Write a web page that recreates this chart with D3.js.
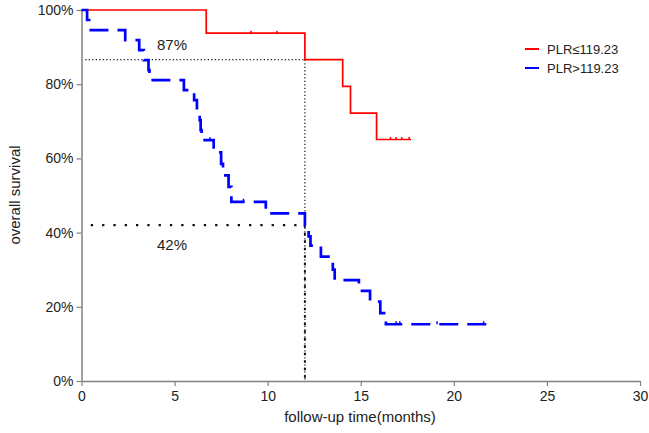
<!DOCTYPE html>
<html>
<head>
<meta charset="utf-8">
<script src="https://cdn.jsdelivr.net/npm/d3@7"></script>
<style>
  body { margin: 0; background: #fff; }
  text { font-family: "Liberation Sans", Arial, sans-serif; }
</style>
</head>
<body>
<svg id="chart" width="649" height="433"></svg>
<script>
// survival curves (months, proportion)
var redTime = [0, 6.7, 12.0, 14.03, 14.45, 15.85],
    redSurv = [1, 0.9375, 0.866, 0.794, 0.722, 0.651],
    redEnd = 17.7,
    redCensor = [9.1, 10.5, 16.6, 16.9, 17.2, 17.6];

var blueTime = [0, 0.3, 0.5, 2.35, 3.1, 3.35, 3.6, 3.65, 5.5, 6.05, 6.2, 6.35, 6.4, 6.45,
                7.1, 7.5, 7.6, 7.9, 8.05, 9.9, 12.0, 12.2, 12.3, 12.86, 13.5, 13.6, 14.9, 15.5, 16.05, 16.35],
    blueSurv = [1, 0.973, 0.946, 0.919, 0.892, 0.865, 0.838, 0.811, 0.784, 0.757, 0.730, 0.703, 0.676, 0.649,
                0.616, 0.585, 0.554, 0.523, 0.483, 0.452, 0.42, 0.39, 0.365, 0.335, 0.30, 0.272, 0.243, 0.214, 0.183, 0.153],
    blueEnd = 21.8,
    blueCensor = [6.9, 8.7, 16.9, 17.1, 19.1, 21.6];

var xTicks = [0, 5, 10, 15, 20, 25, 30],
    yTicks = [0, 0.2, 0.4, 0.6, 0.8, 1];

var legendLabels = ["PLR≤119.23", "PLR>119.23"],
    colors = ["#ff0000", "#0000ff"];

// 12 month landmark
var landmark = 12, redAt12 = 0.866, blueAt12 = 0.42;

var svg = d3.select("#chart");
var x = d3.scaleLinear().domain([0, 30]).range([81.5, 640]);
var y = d3.scaleLinear().domain([0, 1]).range([381, 10]);

// axes
var gy = svg.append("g").attr("transform", "translate(81.5,0)")
    .call(d3.axisLeft(y).tickValues(yTicks).tickFormat(d3.format(".0%")).tickSize(5).tickSizeOuter(0));
var gx = svg.append("g").attr("transform", "translate(0,381)")
    .call(d3.axisBottom(x).tickValues(xTicks).tickSize(5).tickSizeOuter(0));
[gx, gy].forEach(function(g){
    g.select(".domain").attr("stroke", "#808080").attr("stroke-width", 1.5);
    g.selectAll(".tick line").attr("stroke", "#808080").attr("stroke-width", 1.2);
    g.selectAll(".tick text").attr("fill", "#222").style("font-size", "14px")
        .style("font-family", "'Liberation Sans', Arial, sans-serif");
});
gx.selectAll(".tick text").attr("dy", "0.85em");

svg.append("text").attr("x", 360).attr("y", 422).attr("text-anchor", "middle")
    .attr("fill", "#222").style("font-size", "15px").text("follow-up time(months)");
svg.append("text").attr("transform", "translate(20,195) rotate(-90)").attr("text-anchor", "middle")
    .attr("fill", "#222").style("font-size", "15px").text("overall survival");

// reference lines
svg.append("line").attr("x1", x(0.2)).attr("x2", x(landmark)).attr("y1", y(redAt12)).attr("y2", y(redAt12))
    .attr("stroke", "#222").attr("stroke-width", 1.3).attr("stroke-dasharray", "1.3,2.2");
svg.append("line").attr("x1", x(landmark)).attr("x2", x(landmark)).attr("y1", y(redAt12)).attr("y2", y(0))
    .attr("stroke", "#222").attr("stroke-width", 1.3).attr("stroke-dasharray", "1.3,2.2");
svg.append("line").attr("x1", x(0.5)).attr("x2", x(landmark)).attr("y1", y(blueAt12)).attr("y2", y(blueAt12))
    .attr("stroke", "#111").attr("stroke-width", 2.3).attr("stroke-dasharray", "2.3,9");
svg.append("line").attr("x1", x(landmark)).attr("x2", x(landmark)).attr("y1", y(blueAt12)).attr("y2", y(0))
    .attr("stroke", "#111").attr("stroke-width", 2).attr("stroke-dasharray", "2.5,5");

svg.append("text").attr("x", 157).attr("y", 50).attr("fill", "#222").style("font-size", "15px").text("87%");
svg.append("text").attr("x", 157).attr("y", 250).attr("fill", "#222").style("font-size", "15px").text("42%");

// step curves
var step = d3.line().x(function(d){ return x(d[0]); }).y(function(d){ return y(d[1]); }).curve(d3.curveStepAfter);

function points(t, s, end) {
    var p = t.map(function(v, i){ return [v, s[i]]; });
    p.push([end, s[s.length - 1]]);
    return p;
}
function survAt(t, s, v) {
    var k = 0;
    for (var i = 0; i < t.length; i++) if (t[i] <= v) k = i;
    return s[k];
}

svg.append("path").attr("d", step(points(redTime, redSurv, redEnd)))
    .attr("fill", "none").attr("stroke", colors[0]).attr("stroke-width", 1.7);
svg.append("path").attr("d", step(points(blueTime, blueSurv, blueEnd)))
    .attr("fill", "none").attr("stroke", colors[1]).attr("stroke-width", 2.7)
    .attr("stroke-dasharray", "19,9");

// censor marks
svg.selectAll(".cr").data(redCensor).enter().append("line")
    .attr("x1", function(d){ return x(d); }).attr("x2", function(d){ return x(d); })
    .attr("y1", function(d){ return y(survAt(redTime, redSurv, d)) - 2.5; })
    .attr("y2", function(d){ return y(survAt(redTime, redSurv, d)); })
    .attr("stroke", colors[0]).attr("stroke-width", 1.5);
svg.selectAll(".cb").data(blueCensor).enter().append("line")
    .attr("x1", function(d){ return x(d); }).attr("x2", function(d){ return x(d); })
    .attr("y1", function(d){ return y(survAt(blueTime, blueSurv, d)) - 3; })
    .attr("y2", function(d){ return y(survAt(blueTime, blueSurv, d)); })
    .attr("stroke", colors[1]).attr("stroke-width", 1.5);

// legend
var lg = svg.selectAll(".lg").data(legendLabels).enter().append("g")
    .attr("transform", function(d, i){ return "translate(525," + (49 + i * 19) + ")"; });
lg.append("line").attr("x1", 0).attr("x2", 14)
    .attr("stroke", function(d, i){ return colors[i]; }).attr("stroke-width", 2);
lg.append("text").attr("x", 22).attr("dy", "0.35em").attr("fill", "#222")
    .style("font-size", "13px").text(function(d){ return d; });
</script>
</body>
</html>
